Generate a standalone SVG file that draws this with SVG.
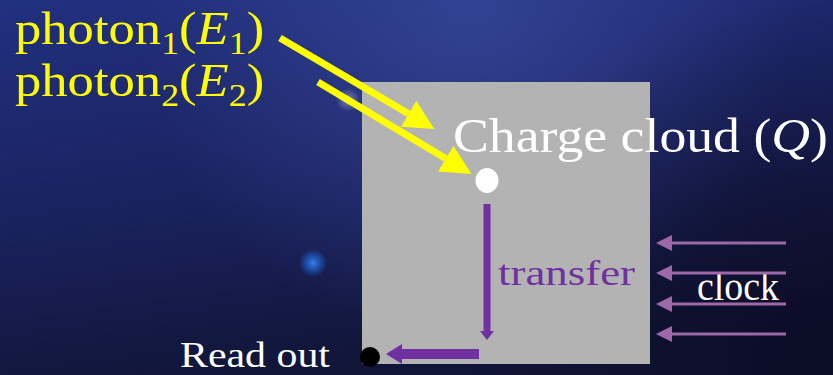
<svg xmlns="http://www.w3.org/2000/svg" width="833" height="375" viewBox="0 0 833 375">
  <defs>
    <linearGradient id="bg" x1="0" y1="0" x2="0.3" y2="1">
      <stop offset="0" stop-color="#213080"/>
      <stop offset="0.55" stop-color="#1a225e"/>
      <stop offset="1" stop-color="#111538"/>
    </linearGradient>
    <radialGradient id="glowTop" cx="470" cy="10" r="330" gradientUnits="userSpaceOnUse">
      <stop offset="0" stop-color="#4050a8" stop-opacity="0.6"/>
      <stop offset="1" stop-color="#4050a8" stop-opacity="0"/>
    </radialGradient>
    <radialGradient id="darkBR" cx="833" cy="375" r="380" gradientUnits="userSpaceOnUse">
      <stop offset="0" stop-color="#0a0b22" stop-opacity="0.85"/>
      <stop offset="1" stop-color="#0a0b22" stop-opacity="0"/>
    </radialGradient>
    <radialGradient id="blueSpot" cx="0.5" cy="0.5" r="0.5">
      <stop offset="0" stop-color="#3a8cff" stop-opacity="0.9"/>
      <stop offset="0.6" stop-color="#1f5ac0" stop-opacity="0.6"/>
      <stop offset="1" stop-color="#1f5ac0" stop-opacity="0"/>
    </radialGradient>
    <radialGradient id="whiteSpot" cx="0.5" cy="0.5" r="0.5">
      <stop offset="0" stop-color="#e0e0ff" stop-opacity="0.45"/>
      <stop offset="1" stop-color="#e0e0ff" stop-opacity="0"/>
    </radialGradient>
    <marker id="yHead" markerUnits="userSpaceOnUse" markerWidth="30" markerHeight="30" refX="0" refY="13" orient="auto" viewBox="0 0 26 26">
      <path d="M0,0 L26,13 L0,26 z" fill="#ffff00"/>
    </marker>
    <marker id="cHead" markerUnits="userSpaceOnUse" markerWidth="16" markerHeight="16" refX="0" refY="8" orient="auto" viewBox="0 0 16 16">
      <path d="M0,0 L16,8 L0,16 z" fill="#9c68a8"/>
    </marker>
    <marker id="pHeadS" markerUnits="userSpaceOnUse" markerWidth="10" markerHeight="14" refX="0" refY="7" orient="auto" viewBox="0 0 10 14">
      <path d="M0,0 L9,7 L0,14 z" fill="#7030a0"/>
    </marker>
    <marker id="pHeadL" markerUnits="userSpaceOnUse" markerWidth="16" markerHeight="20" refX="0" refY="10" orient="auto" viewBox="0 0 16 20">
      <path d="M0,0 L16,10 L0,20 z" fill="#7030a0"/>
    </marker>
    <style>
      .serif { font-family: "Liberation Serif", "DejaVu Serif", serif; }
      .yel { fill: #ffff00; }
      .wht { fill: #ffffff; }
      .pur { fill: #7030a0; }
      .ya { stroke: #ffff00; stroke-width: 7; fill: none; marker-end: url(#yHead); }
      .ca { stroke: #9c68a8; stroke-width: 3; fill: none; marker-end: url(#cHead); }
    </style>
  </defs>

  <!-- background -->
  <rect x="0" y="0" width="833" height="375" fill="url(#bg)"/>
  <rect x="0" y="0" width="833" height="375" fill="url(#glowTop)"/>
  <rect x="0" y="0" width="833" height="375" fill="url(#darkBR)"/>
  <circle cx="313" cy="263" r="14" fill="url(#blueSpot)"/>
  <circle cx="348" cy="100" r="12" fill="url(#whiteSpot)"/>

  <g id="sensor">
    <rect x="362" y="82" width="288" height="282" fill="#b3b3b3"/>
  </g>

  <g id="photon1">
    <g transform="translate(15,44) scale(1.12,1)">
      <text class="serif yel" font-size="47">photon<tspan font-size="32" dy="10">1</tspan><tspan dy="-10">(</tspan><tspan font-style="italic">E</tspan><tspan font-size="32" dy="10">1</tspan><tspan dy="-10">)</tspan></text>
    </g>
  </g>

  <g id="photon2">
    <g transform="translate(15,96) scale(1.12,1)">
      <text class="serif yel" font-size="47">photon<tspan font-size="32" dy="10">2</tspan><tspan dy="-10">(</tspan><tspan font-style="italic">E</tspan><tspan font-size="32" dy="10">2</tspan><tspan dy="-10">)</tspan></text>
    </g>
  </g>

  <g id="charge-cloud">
    <ellipse cx="487" cy="180.5" rx="11.5" ry="12.5" fill="#ffffff"/>
    <text class="serif wht" x="453" y="152" font-size="49" textLength="375" lengthAdjust="spacingAndGlyphs">Charge cloud (<tspan font-style="italic">Q</tspan>)</text>
  </g>

  <g id="transfer">
    <text class="serif pur" x="498" y="285" font-size="36" textLength="137" lengthAdjust="spacingAndGlyphs">transfer</text>
  </g>

  <g id="clock">
    <text class="serif wht" x="697" y="300" font-size="39" textLength="82" lengthAdjust="spacingAndGlyphs">clock</text>
  </g>

  <g id="readout">
    <circle cx="370" cy="357" r="10" fill="#000000"/>
    <text class="serif wht" x="180" y="367" font-size="36" textLength="150" lengthAdjust="spacingAndGlyphs">Read out</text>
  </g>

  <g id="connectors">
    <line class="ya" x1="280" y1="38" x2="408.6" y2="113.8"/>
    <line class="ya" x1="318" y1="82" x2="445.7" y2="158.6"/>
    <line x1="487" y1="204" x2="487" y2="331" stroke="#7030a0" stroke-width="7" marker-end="url(#pHeadS)"/>
    <line x1="479" y1="354" x2="402" y2="354" stroke="#7030a0" stroke-width="10" marker-end="url(#pHeadL)"/>
    <line class="ca" x1="786" y1="243" x2="672" y2="243"/>
    <line class="ca" x1="786" y1="273" x2="672" y2="273"/>
    <line class="ca" x1="786" y1="304" x2="672" y2="304"/>
    <line class="ca" x1="786" y1="334" x2="672" y2="334"/>
  </g>
</svg>
